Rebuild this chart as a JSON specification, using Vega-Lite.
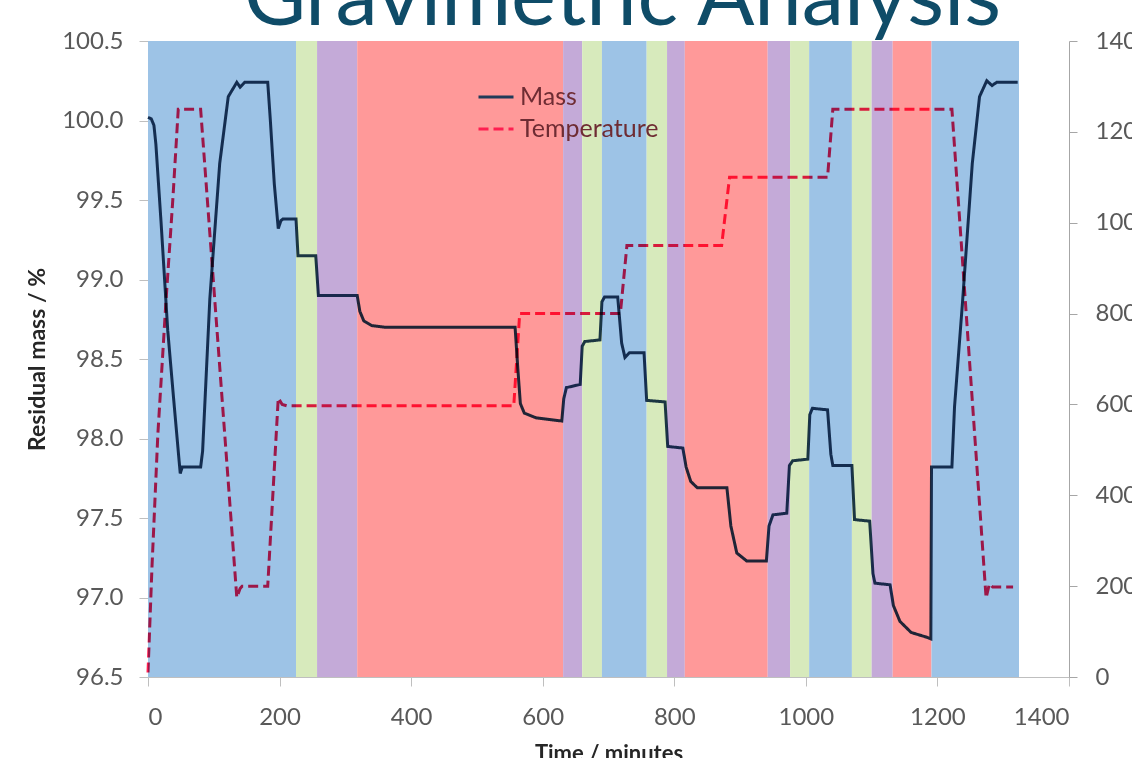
{
  "$schema": "https://vega.github.io/schema/vega-lite/v6.json",
  "width": 921,
  "height": 636,
  "autosize": {"type": "none"},
  "padding": {"left": 148, "top": 41, "right": 63, "bottom": 81},
  "background": "white",
  "title": {"text": "Gravimetric Analysis", "fontSize": 85, "font": "Lato", "fontWeight": "normal", "color": "#0f4c68", "offset": -14, "dx": 14, "anchor": "middle"},
  "config": {"view": {"stroke": null}, "font": "Lato"},
  "datasets": {
    "bands": [
      {"start": 0, "end": 225, "phase": "A"},
      {"start": 225, "end": 257, "phase": "B"},
      {"start": 257, "end": 318, "phase": "C"},
      {"start": 318, "end": 631, "phase": "D"},
      {"start": 631, "end": 660, "phase": "C"},
      {"start": 660, "end": 690, "phase": "B"},
      {"start": 690, "end": 758, "phase": "A"},
      {"start": 758, "end": 789, "phase": "B"},
      {"start": 789, "end": 816, "phase": "C"},
      {"start": 816, "end": 942, "phase": "D"},
      {"start": 942, "end": 976, "phase": "C"},
      {"start": 976, "end": 1005, "phase": "B"},
      {"start": 1005, "end": 1070, "phase": "A"},
      {"start": 1070, "end": 1100, "phase": "B"},
      {"start": 1100, "end": 1132, "phase": "C"},
      {"start": 1132, "end": 1191, "phase": "D"},
      {"start": 1191, "end": 1324, "phase": "A"}
    ],
    "lines": [
      {"series": "Mass", "t": 0, "value": 100.02},
      {"series": "Mass", "t": 5, "value": 100.01},
      {"series": "Mass", "t": 9, "value": 99.97},
      {"series": "Mass", "t": 12, "value": 99.85},
      {"series": "Mass", "t": 20, "value": 99.35},
      {"series": "Mass", "t": 30, "value": 98.68},
      {"series": "Mass", "t": 40, "value": 98.2},
      {"series": "Mass", "t": 49, "value": 97.78},
      {"series": "Mass", "t": 52, "value": 97.82},
      {"series": "Mass", "t": 80, "value": 97.82},
      {"series": "Mass", "t": 83, "value": 97.92},
      {"series": "Mass", "t": 94, "value": 98.88},
      {"series": "Mass", "t": 109, "value": 99.73},
      {"series": "Mass", "t": 122, "value": 100.15},
      {"series": "Mass", "t": 135, "value": 100.24},
      {"series": "Mass", "t": 140, "value": 100.21},
      {"series": "Mass", "t": 147, "value": 100.24},
      {"series": "Mass", "t": 182, "value": 100.24},
      {"series": "Mass", "t": 186, "value": 100.0},
      {"series": "Mass", "t": 192, "value": 99.6},
      {"series": "Mass", "t": 198, "value": 99.32},
      {"series": "Mass", "t": 202, "value": 99.37},
      {"series": "Mass", "t": 205, "value": 99.38},
      {"series": "Mass", "t": 225, "value": 99.38},
      {"series": "Mass", "t": 228, "value": 99.15},
      {"series": "Mass", "t": 255, "value": 99.15},
      {"series": "Mass", "t": 259, "value": 98.9},
      {"series": "Mass", "t": 318, "value": 98.9},
      {"series": "Mass", "t": 322, "value": 98.8},
      {"series": "Mass", "t": 328, "value": 98.74},
      {"series": "Mass", "t": 340, "value": 98.71},
      {"series": "Mass", "t": 360, "value": 98.7},
      {"series": "Mass", "t": 558, "value": 98.7},
      {"series": "Mass", "t": 562, "value": 98.45},
      {"series": "Mass", "t": 566, "value": 98.22},
      {"series": "Mass", "t": 572, "value": 98.16},
      {"series": "Mass", "t": 590, "value": 98.13},
      {"series": "Mass", "t": 629, "value": 98.11},
      {"series": "Mass", "t": 632, "value": 98.25},
      {"series": "Mass", "t": 636, "value": 98.32},
      {"series": "Mass", "t": 657, "value": 98.34},
      {"series": "Mass", "t": 660, "value": 98.58},
      {"series": "Mass", "t": 664, "value": 98.61},
      {"series": "Mass", "t": 687, "value": 98.62},
      {"series": "Mass", "t": 690, "value": 98.86},
      {"series": "Mass", "t": 694, "value": 98.89},
      {"series": "Mass", "t": 714, "value": 98.89},
      {"series": "Mass", "t": 720, "value": 98.6},
      {"series": "Mass", "t": 725, "value": 98.51},
      {"series": "Mass", "t": 732, "value": 98.54},
      {"series": "Mass", "t": 754, "value": 98.54},
      {"series": "Mass", "t": 758, "value": 98.24},
      {"series": "Mass", "t": 786, "value": 98.23},
      {"series": "Mass", "t": 790, "value": 97.95},
      {"series": "Mass", "t": 813, "value": 97.94},
      {"series": "Mass", "t": 818, "value": 97.82},
      {"series": "Mass", "t": 825, "value": 97.73},
      {"series": "Mass", "t": 835, "value": 97.69},
      {"series": "Mass", "t": 880, "value": 97.69},
      {"series": "Mass", "t": 886, "value": 97.45},
      {"series": "Mass", "t": 895, "value": 97.28},
      {"series": "Mass", "t": 910, "value": 97.23},
      {"series": "Mass", "t": 940, "value": 97.23},
      {"series": "Mass", "t": 944, "value": 97.45},
      {"series": "Mass", "t": 950, "value": 97.52},
      {"series": "Mass", "t": 971, "value": 97.53},
      {"series": "Mass", "t": 975, "value": 97.83},
      {"series": "Mass", "t": 980, "value": 97.86},
      {"series": "Mass", "t": 1003, "value": 97.87},
      {"series": "Mass", "t": 1006, "value": 98.15},
      {"series": "Mass", "t": 1010, "value": 98.19},
      {"series": "Mass", "t": 1033, "value": 98.18},
      {"series": "Mass", "t": 1038, "value": 97.9},
      {"series": "Mass", "t": 1041, "value": 97.83},
      {"series": "Mass", "t": 1070, "value": 97.83},
      {"series": "Mass", "t": 1074, "value": 97.49},
      {"series": "Mass", "t": 1097, "value": 97.48},
      {"series": "Mass", "t": 1102, "value": 97.15},
      {"series": "Mass", "t": 1105, "value": 97.09},
      {"series": "Mass", "t": 1128, "value": 97.08},
      {"series": "Mass", "t": 1133, "value": 96.95},
      {"series": "Mass", "t": 1143, "value": 96.85},
      {"series": "Mass", "t": 1160, "value": 96.78},
      {"series": "Mass", "t": 1184, "value": 96.75},
      {"series": "Mass", "t": 1190, "value": 96.74},
      {"series": "Mass", "t": 1191, "value": 97.82},
      {"series": "Mass", "t": 1222, "value": 97.82},
      {"series": "Mass", "t": 1226, "value": 98.2},
      {"series": "Mass", "t": 1238, "value": 98.85},
      {"series": "Mass", "t": 1253, "value": 99.73},
      {"series": "Mass", "t": 1264, "value": 100.15},
      {"series": "Mass", "t": 1275, "value": 100.25},
      {"series": "Mass", "t": 1283, "value": 100.22},
      {"series": "Mass", "t": 1290, "value": 100.24},
      {"series": "Mass", "t": 1322, "value": 100.24},
      {"series": "Temperature", "t": 0, "value": 10},
      {"series": "Temperature", "t": 6, "value": 240},
      {"series": "Temperature", "t": 15, "value": 535},
      {"series": "Temperature", "t": 27, "value": 820},
      {"series": "Temperature", "t": 38, "value": 1057},
      {"series": "Temperature", "t": 46, "value": 1250},
      {"series": "Temperature", "t": 80, "value": 1250},
      {"series": "Temperature", "t": 135, "value": 175},
      {"series": "Temperature", "t": 140, "value": 195},
      {"series": "Temperature", "t": 143, "value": 200},
      {"series": "Temperature", "t": 182, "value": 200},
      {"series": "Temperature", "t": 198, "value": 614},
      {"series": "Temperature", "t": 204, "value": 600},
      {"series": "Temperature", "t": 211, "value": 597},
      {"series": "Temperature", "t": 556, "value": 597},
      {"series": "Temperature", "t": 565, "value": 800},
      {"series": "Temperature", "t": 718, "value": 800},
      {"series": "Temperature", "t": 728, "value": 950},
      {"series": "Temperature", "t": 872, "value": 950},
      {"series": "Temperature", "t": 884, "value": 1100},
      {"series": "Temperature", "t": 1033, "value": 1100},
      {"series": "Temperature", "t": 1041, "value": 1250},
      {"series": "Temperature", "t": 1222, "value": 1250},
      {"series": "Temperature", "t": 1274, "value": 174},
      {"series": "Temperature", "t": 1279, "value": 205},
      {"series": "Temperature", "t": 1284, "value": 198},
      {"series": "Temperature", "t": 1315, "value": 198}
    ]
  },
  "layer": [
    {
      "data": {"name": "bands"},
      "mark": {"type": "rect"},
      "encoding": {
        "x": {"field": "start", "type": "quantitative", "scale": {"domain": [0, 1400], "nice": false},
          "axis": {"values": [0, 200, 400, 600, 800, 1000, 1200, 1400], "format": "d", "title": "Time / minutes", "titleFontSize": 22, "titleFontWeight": "bold", "titleColor": "#262626", "titlePadding": 14, "labelFontSize": 24, "labelColor": "#595959", "domainColor": "#bfbfbf", "tickColor": "#bfbfbf", "tickSize": 9, "labelPadding": 19, "grid": false}},
        "x2": {"field": "end"},
        "fill": {"field": "phase", "type": "nominal", "scale": {"domain": ["A", "B", "C", "D"], "range": ["#9dc3e6", "#d7eabc", "#c4aad8", "#ff9999"]}, "legend": null}
      }
    },
    {
      "data": {"name": "lines"},
      "transform": [{"filter": "datum.series === 'Mass'"}],
      "mark": {"type": "line", "strokeWidth": 3, "blend": "multiply"},
      "encoding": {
        "x": {"field": "t", "type": "quantitative"},
        "y": {"field": "value", "type": "quantitative", "scale": {"domain": [96.5, 100.5], "zero": false, "nice": false},
          "axis": {"values": [96.5, 97, 97.5, 98, 98.5, 99, 99.5, 100, 100.5], "format": ".1f", "title": "Residual mass / %", "titleFontSize": 23, "titleFontWeight": "bold", "titleColor": "#262626", "titlePadding": 12, "labelFontSize": 24, "labelColor": "#595959", "domainColor": "#bfbfbf", "tickColor": "#bfbfbf", "tickSize": 9, "labelPadding": 16, "grid": false}},
        "color": {"field": "series", "type": "nominal", "scale": {"domain": ["Mass", "Temperature"], "range": ["#203b59", "#ff1e50"]},
          "legend": {"title": null, "orient": "none", "legendX": 329, "legendY": 37, "symbolType": "stroke", "symbolSize": 1225, "symbolStrokeWidth": 3, "labelFontSize": 25, "labelColor": "#6e2c33", "rowPadding": -2, "labelOffset": 5, "padding": 0}},
        "strokeDash": {"field": "series", "type": "nominal", "scale": {"domain": ["Mass", "Temperature"], "range": [[1, 0], [10, 5]]},
          "legend": {"title": null, "orient": "none", "legendX": 329, "legendY": 37, "symbolType": "stroke", "symbolSize": 1225, "symbolStrokeWidth": 3, "labelFontSize": 25, "labelColor": "#6e2c33", "rowPadding": -2, "labelOffset": 5, "padding": 0}}
      }
    },
    {
      "data": {"name": "lines"},
      "transform": [{"filter": "datum.series === 'Temperature'"}],
      "mark": {"type": "line", "strokeWidth": 3, "blend": "multiply"},
      "encoding": {
        "x": {"field": "t", "type": "quantitative"},
        "y": {"field": "value", "type": "quantitative", "scale": {"domain": [0, 1400], "nice": false},
          "axis": {"orient": "right", "values": [0, 200, 400, 600, 800, 1000, 1200, 1400], "format": "d", "title": null, "labelFontSize": 24, "labelColor": "#595959", "domainColor": "#a6a6a6", "tickColor": "#a6a6a6", "tickSize": 8, "labelPadding": 18, "grid": false}},
        "color": {"field": "series", "type": "nominal"},
        "strokeDash": {"field": "series", "type": "nominal"}
      }
    }
  ],
  "resolve": {"scale": {"y": "independent"}}
}
